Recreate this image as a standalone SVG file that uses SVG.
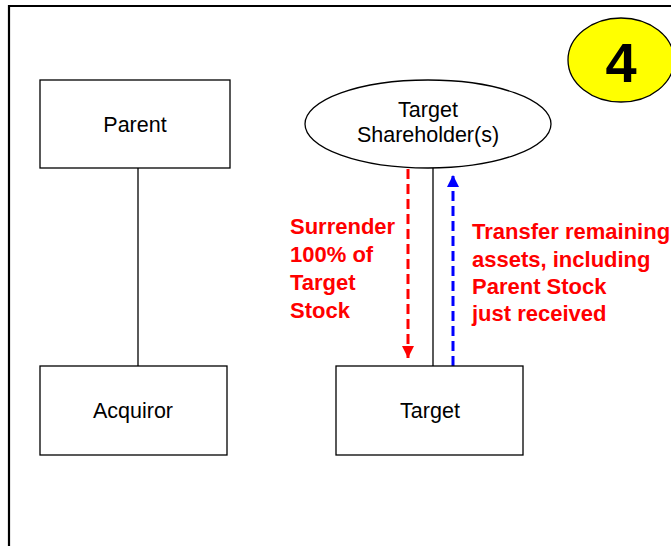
<svg xmlns="http://www.w3.org/2000/svg" width="671" height="546" viewBox="0 0 671 546">
<style>
.box{fill:#fff;stroke:#000;stroke-width:1.3}
.lbl{font-family:"Liberation Sans",Arial,sans-serif;font-size:21.5px;fill:#000;text-anchor:middle}
.note{font-family:"Liberation Sans",Arial,sans-serif;font-size:22px;font-weight:bold;fill:#ff0000}
.line{stroke:#000;stroke-width:1.3;fill:none}
</style>
<defs>
<marker id="ahRed" viewBox="0 0 10 10" refX="10" refY="5" markerWidth="4" markerHeight="4" orient="auto" markerUnits="strokeWidth"><path d="M0,0 L10,5 L0,10 z" fill="#ff0000"/></marker>
<marker id="ahBlue" viewBox="0 0 10 10" refX="10" refY="5" markerWidth="4" markerHeight="4" orient="auto" markerUnits="strokeWidth"><path d="M0,0 L10,5 L0,10 z" fill="#0000ff"/></marker>
</defs>
<rect width="671" height="546" fill="#fff"/>
<path d="M9,546 V6 H671" fill="none" stroke="#000" stroke-width="2.2"/>
<g id="badge">
<ellipse cx="621" cy="60" rx="53" ry="42" fill="#ffff00" stroke="#000" stroke-width="1.3"/>
<text x="621" y="82" font-family="Liberation Sans,Arial,sans-serif" font-size="56" font-weight="bold" text-anchor="middle" fill="#000">4</text>
</g>
<g id="connectors">
<line class="line" x1="138" y1="168" x2="138" y2="366"/>
<line class="line" x1="433" y1="168" x2="433" y2="366"/>
<line x1="408" y1="169" x2="408" y2="358" stroke="#ff0000" stroke-width="3" stroke-dasharray="10,5" marker-end="url(#ahRed)"/>
<line x1="453" y1="366" x2="453" y2="175" stroke="#0000ff" stroke-width="3" stroke-dasharray="10,5" marker-end="url(#ahBlue)"/>
</g>
<g id="parent">
<rect class="box" x="40" y="80" width="190" height="88"/>
<text class="lbl" x="135" y="132">Parent</text>
</g>
<g id="shareholders">
<ellipse class="box" cx="428" cy="124" rx="123" ry="44"/>
<text class="lbl" x="428" y="117">Target</text>
<text class="lbl" x="428" y="142">Shareholder(s)</text>
</g>
<g id="acquiror">
<rect class="box" x="40" y="366" width="187" height="89"/>
<text class="lbl" x="133" y="418">Acquiror</text>
</g>
<g id="target">
<rect class="box" x="336" y="366" width="187" height="89"/>
<text class="lbl" x="430" y="418">Target</text>
</g>
<g id="note-surrender">
<text class="note" x="290" y="234">Surrender</text>
<text class="note" x="290" y="262">100% of</text>
<text class="note" x="290" y="290">Target</text>
<text class="note" x="290" y="318">Stock</text>
</g>
<g id="note-transfer">
<text class="note" x="472" y="239">Transfer remaining</text>
<text class="note" x="472" y="267">assets, including</text>
<text class="note" x="472" y="294">Parent Stock</text>
<text class="note" x="472" y="321">just received</text>
</g>
</svg>
